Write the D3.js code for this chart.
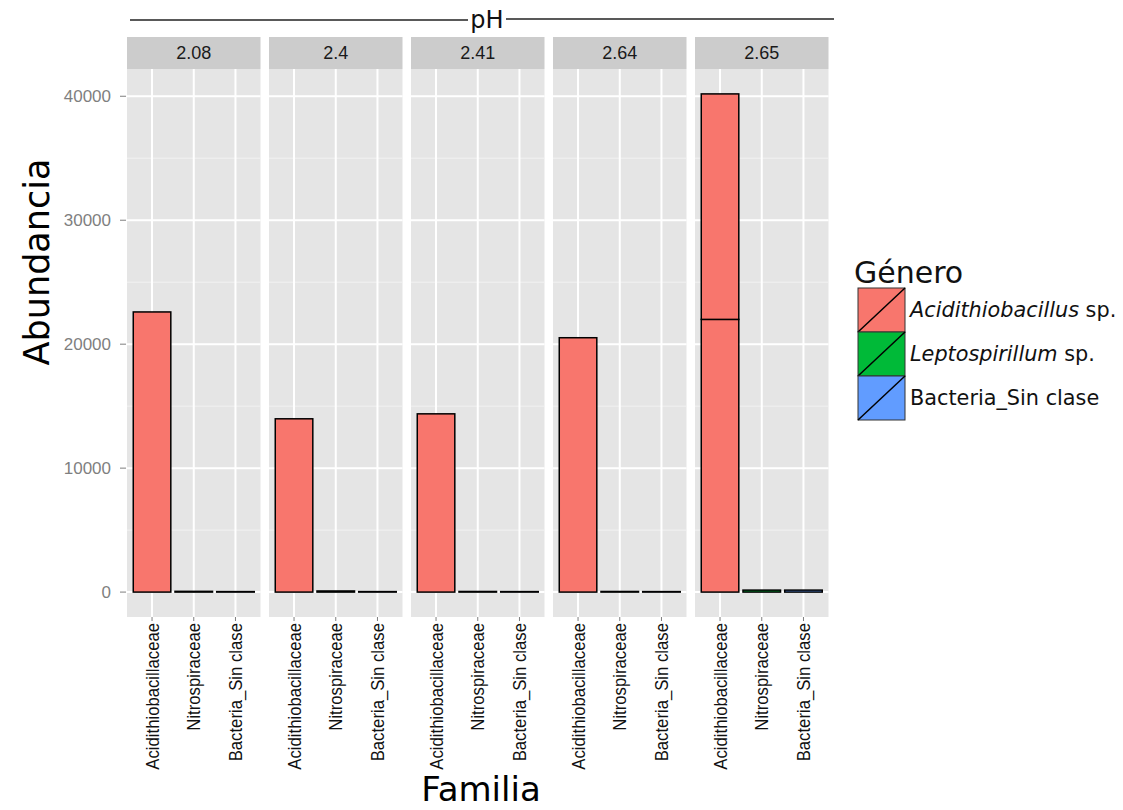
<!DOCTYPE html>
<html><head><meta charset="utf-8">
<script src="https://cdn.jsdelivr.net/npm/d3@7"></script>
<style>body{margin:0;background:#fff}svg{display:block}</style>
</head><body><svg id="c" width="1123" height="810"></svg>
<script>
const phLevels = ["2.08","2.4","2.41","2.64","2.65"];
const familias = ["Acidithiobacillaceae","Nitrospiraceae","Bacteria_Sin clase"];
const generos = ["Acidithiobacillus","Leptospirillum","Bacteria_Sin clase"];
const generoColors = ["#F8766D","#00BA38","#619CFF"];
// abundance per pH (sample 1 and sample 2 for each pH)
const acidiSample1 = [22600, 13980, 14380, 20520, 22000];
const acidiSample2 = [0, 0, 0, 0, 18190];
const nitroValues = [60, 90, 50, 50, 160];
const bactValues = [40, 40, 40, 40, 160];
const yTicks = [0, 10000, 20000, 30000, 40000];
const yMinor = [5000, 15000, 25000, 35000];

const svg = d3.select("#c");
const panelX0 = 127, panelW = 133.5, panelGap = 8.5;
const panelTop = 69, panelBottom = 617, stripTop = 37;

const maxTotal = d3.max(phLevels, (d,i)=>acidiSample1[i]+acidiSample2[i]);
const expand = maxTotal*0.05;
const y = d3.scaleLinear().domain([-expand, maxTotal+expand]).range([panelBottom, panelTop]);
const fx = d3.scaleBand().domain(phLevels).range([panelX0, panelX0 + 5*panelW + 4*panelGap]).paddingInner(panelGap/(panelW+panelGap));
const x = d3.scalePoint().domain(familias).range([0, fx.bandwidth()]).padding(0.6);
const barW = x.step()*0.9;

const segs = [];
phLevels.forEach((ph,i)=>{
  let base = 0;
  [acidiSample1[i], acidiSample2[i]].forEach(v=>{ if(v>0){ segs.push({ph, fam:familias[0], g:0, y0:base, y1:base+v}); base+=v; }});
  segs.push({ph, fam:familias[1], g:1, y0:0, y1:nitroValues[i]});
  segs.push({ph, fam:familias[2], g:2, y0:0, y1:bactValues[i]});
});

phLevels.forEach(ph=>{
  const g = svg.append("g").attr("transform",`translate(${fx(ph)},0)`);
  g.append("rect").attr("x",0).attr("y",stripTop).attr("width",fx.bandwidth()).attr("height",panelTop-stripTop).attr("fill","#CCCCCC");
  g.append("text").attr("x",fx.bandwidth()/2).attr("y",(stripTop+panelTop)/2+6).attr("text-anchor","middle")
    .attr("font-family","Liberation Sans, Arial, sans-serif").attr("font-size",18).attr("fill","#1a1a1a").text(ph);
  g.append("rect").attr("x",0).attr("y",panelTop).attr("width",fx.bandwidth()).attr("height",panelBottom-panelTop).attr("fill","#E5E5E5");
  yMinor.forEach(t=>g.append("line").attr("x1",0).attr("x2",fx.bandwidth()).attr("y1",y(t)).attr("y2",y(t)).attr("stroke","#F2F2F2").attr("stroke-width",1));
  yTicks.forEach(t=>g.append("line").attr("x1",0).attr("x2",fx.bandwidth()).attr("y1",y(t)).attr("y2",y(t)).attr("stroke","#FFFFFF").attr("stroke-width",2));
  familias.forEach(f=>g.append("line").attr("x1",x(f)).attr("x2",x(f)).attr("y1",panelTop).attr("y2",panelBottom).attr("stroke","#FFFFFF").attr("stroke-width",2));
  g.selectAll("rect.bar").data(segs.filter(s=>s.ph===ph)).join("rect").attr("class","bar")
    .attr("x",d=>x(d.fam)-barW/2).attr("width",barW)
    .attr("y",d=>y(d.y1)).attr("height",d=>Math.max(0,y(d.y0)-y(d.y1)))
    .attr("fill",d=>generoColors[d.g]).attr("stroke","#000").attr("stroke-width",1.5);
  familias.forEach(f=>{
    g.append("line").attr("x1",x(f)).attr("x2",x(f)).attr("y1",panelBottom).attr("y2",panelBottom+4).attr("stroke","#7F7F7F");
    g.append("text").attr("transform",`translate(${x(f)+6.5},${panelBottom+6}) rotate(-90) scale(0.88,1)`).attr("text-anchor","end")
      .attr("font-family","Liberation Sans, Arial, sans-serif").attr("font-size",19).attr("fill","#111").text(f);
  });
});

// y axis
const ya = svg.append("g");
yTicks.forEach(t=>{
  ya.append("line").attr("x1",panelX0-7).attr("x2",panelX0-1).attr("y1",y(t)).attr("y2",y(t)).attr("stroke","#7F7F7F");
  ya.append("text").attr("x",panelX0-16).attr("y",y(t)+6).attr("text-anchor","end").attr("font-family","Liberation Sans, Arial, sans-serif")
    .attr("font-size",17).attr("fill","#7F7F7F").text(t);
});
svg.append("text").attr("transform","translate(49,262) rotate(-90)").attr("text-anchor","middle")
  .attr("font-family","DejaVu Sans, sans-serif").attr("font-size",35).attr("fill","#000").text("Abundancia");
svg.append("text").attr("x",481).attr("y",801).attr("text-anchor","middle")
  .attr("font-family","DejaVu Sans, sans-serif").attr("font-size",34).attr("fill","#000").text("Familia");

// pH header
svg.append("line").attr("x1",130).attr("x2",468).attr("y1",20).attr("y2",20).attr("stroke","#222").attr("stroke-width",1.3);
svg.append("line").attr("x1",506).attr("x2",834).attr("y1",19).attr("y2",19).attr("stroke","#222").attr("stroke-width",1.3);
svg.append("text").attr("x",487).attr("y",28).attr("text-anchor","middle").attr("font-family","DejaVu Sans, sans-serif").attr("font-size",24).attr("fill","#111").text("pH");

// legend
const lg = svg.append("g");
lg.append("text").attr("x",854).attr("y",283).attr("font-family","DejaVu Sans, sans-serif").attr("font-size",30).attr("fill","#111").text("Género");
const keyH = 44, keyW = 47, keyX = 858, keyY = 288;
generos.forEach((gname,i)=>{
  const yy = keyY + i*keyH;
  lg.append("rect").attr("x",keyX).attr("y",yy).attr("width",keyW).attr("height",keyH).attr("fill",generoColors[i]).attr("stroke","#333").attr("stroke-width",1);
  lg.append("line").attr("x1",keyX).attr("y1",yy+keyH).attr("x2",keyX+keyW).attr("y2",yy).attr("stroke","#000").attr("stroke-width",1.5);
  const t = lg.append("text").attr("x",910).attr("y",yy+keyH/2+7).attr("font-family","DejaVu Sans, sans-serif").attr("font-size",20.8).attr("fill","#111");
  if (i < 2) {
    t.append("tspan").attr("font-style","italic").text(gname);
    t.append("tspan").text(" sp.");
  } else {
    t.text(gname);
  }
});
</script></body></html>
